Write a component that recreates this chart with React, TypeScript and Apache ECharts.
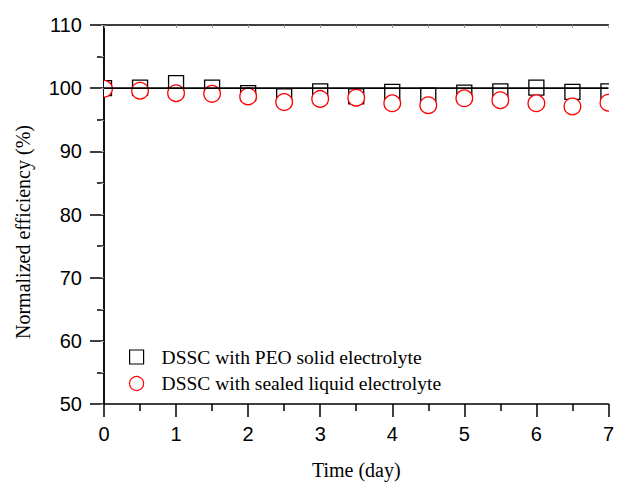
import React, { useEffect, useRef } from "react";
import * as echarts from "echarts";

const days = [0, 0.5, 1, 1.5, 2, 2.5, 3, 3.5, 4, 4.5, 5, 5.5, 6, 6.5, 7];
const peoSolid = [100.0, 100.1, 100.8, 100.1, 99.2, 98.7, 99.5, 98.7, 99.4, 98.8, 99.3, 99.5, 100.1, 99.4, 99.5];
const sealedLiquid = [99.9, 99.6, 99.2, 99.1, 98.7, 97.8, 98.3, 98.5, 97.6, 97.3, 98.4, 98.1, 97.6, 97.1, 97.7];
const baseline = [[0, 100], [7, 100]];
const seriesNames = ["DSSC with PEO solid electrolyte", "DSSC with sealed liquid electrolyte"];
const xTitle = "Time (day)";
const yTitle = "Normalized efficiency (%)";

const SANS = "'Liberation Sans', Arial, sans-serif";
const SERIF = "'Liberation Serif', 'Times New Roman', serif";

export default function App() {
  const ref = useRef<HTMLDivElement>(null);
  useEffect(() => {
    if (!ref.current) return;
    const chart = echarts.init(ref.current, null, { renderer: "svg" });
    const axisLine = { show: true, lineStyle: { color: "#000", width: 1.5 } };
    chart.setOption({
      animation: false,
      backgroundColor: "#fff",
      grid: { left: 104, right: 8, top: 25, bottom: 81, containLabel: false },
      xAxis: [
        {
          type: "value",
          position: "bottom",
          min: 0,
          max: 7,
          interval: 1,
          axisLine,
          axisTick: { show: true, inside: false, length: 13, lineStyle: { color: "#000", width: 1.5 } },
          minorTick: { show: true, splitNumber: 2, length: 7, lineStyle: { color: "#000", width: 1.5 } },
          splitLine: { show: false },
          axisLabel: { color: "#000", fontFamily: SANS, fontSize: 20, margin: 20 },
          name: xTitle,
          nameLocation: "middle",
          nameGap: 56,
          nameTextStyle: { color: "#000", fontFamily: SERIF, fontSize: 20 },
        },
        {
          type: "value",
          position: "top",
          min: 0,
          max: 7,
          interval: 0.5,
          axisLine,
          axisTick: { show: true, inside: true, length: 3, lineStyle: { color: "#999", width: 1 } },
          splitLine: { show: false },
          axisLabel: { show: false },
        },
      ],
      yAxis: [
        {
          type: "value",
          position: "left",
          min: 50,
          max: 110,
          interval: 10,
          axisLine,
          axisTick: { show: true, inside: false, length: 14, lineStyle: { color: "#000", width: 1.5 } },
          minorTick: { show: true, splitNumber: 2, length: 7, lineStyle: { color: "#000", width: 1.5 } },
          splitLine: { show: false },
          axisLabel: { color: "#000", fontFamily: SANS, fontSize: 20, margin: 22 },
        },
        {
          type: "value",
          position: "right",
          min: 50,
          max: 110,
          interval: 5,
          axisLine,
          axisTick: { show: true, inside: true, length: 3, lineStyle: { color: "#999", width: 1 } },
          splitLine: { show: false },
          axisLabel: { show: false },
        },
      ],
      legend: {
        orient: "vertical",
        left: 129,
        top: 347,
        padding: 0,
        itemWidth: 14,
        itemHeight: 14,
        itemGap: 6.5,
        textStyle: { color: "#000", fontFamily: SERIF, fontSize: 19.5, padding: [0, 0, 0, 13] },
        data: [
          { name: seriesNames[0], icon: "rect", itemStyle: { color: "transparent", borderColor: "#000", borderWidth: 1.2 } },
          { name: seriesNames[1], icon: "circle", itemStyle: { color: "transparent", borderColor: "#f00", borderWidth: 1.2 } },
        ],
      },
      graphic: [
        {
          type: "text",
          x: 23,
          y: 232,
          rotation: Math.PI / 2,
          style: {
            text: yTitle,
            fill: "#000",
            font: `20px ${SERIF}`,
            textAlign: "center",
            textVerticalAlign: "middle",
          },
        },
      ],
      series: [
        {
          name: seriesNames[0],
          type: "custom",
          clip: true,
          xAxisIndex: 0,
          yAxisIndex: 0,
          encode: { x: 0, y: 1 },
          itemStyle: { color: "transparent", borderColor: "#000" },
          data: days.map((d, i) => [d, peoSolid[i]]),
          renderItem: (params: any, api: any) => {
            const p = api.coord([api.value(0), api.value(1)]);
            const s = 15;
            return {
              type: "rect",
              shape: { x: p[0] - s / 2, y: p[1] - s / 2, width: s, height: s },
              style: { fill: "none", stroke: "#000", lineWidth: 1.3 },
            };
          },
        },
        {
          name: seriesNames[1],
          type: "custom",
          clip: true,
          xAxisIndex: 0,
          yAxisIndex: 0,
          encode: { x: 0, y: 1 },
          itemStyle: { color: "transparent", borderColor: "#f00" },
          data: days.map((d, i) => [d, sealedLiquid[i]]),
          renderItem: (params: any, api: any) => {
            const p = api.coord([api.value(0), api.value(1)]);
            return {
              type: "circle",
              shape: { cx: p[0], cy: p[1], r: 8.3 },
              style: { fill: "#fff", stroke: "#f00", lineWidth: 1.3 },
            };
          },
        },
        {
          name: "baseline",
          type: "line",
          xAxisIndex: 0,
          yAxisIndex: 0,
          data: baseline,
          symbol: "none",
          silent: true,
          lineStyle: { color: "#000", width: 1.6 },
          z: 5,
        },
      ],
    });
    return () => chart.dispose();
  }, []);
  return (
    <div
      ref={ref}
      style={{ position: "fixed", left: 0, top: 0, width: 617, height: 485, background: "#fff" }}
    />
  );
}
